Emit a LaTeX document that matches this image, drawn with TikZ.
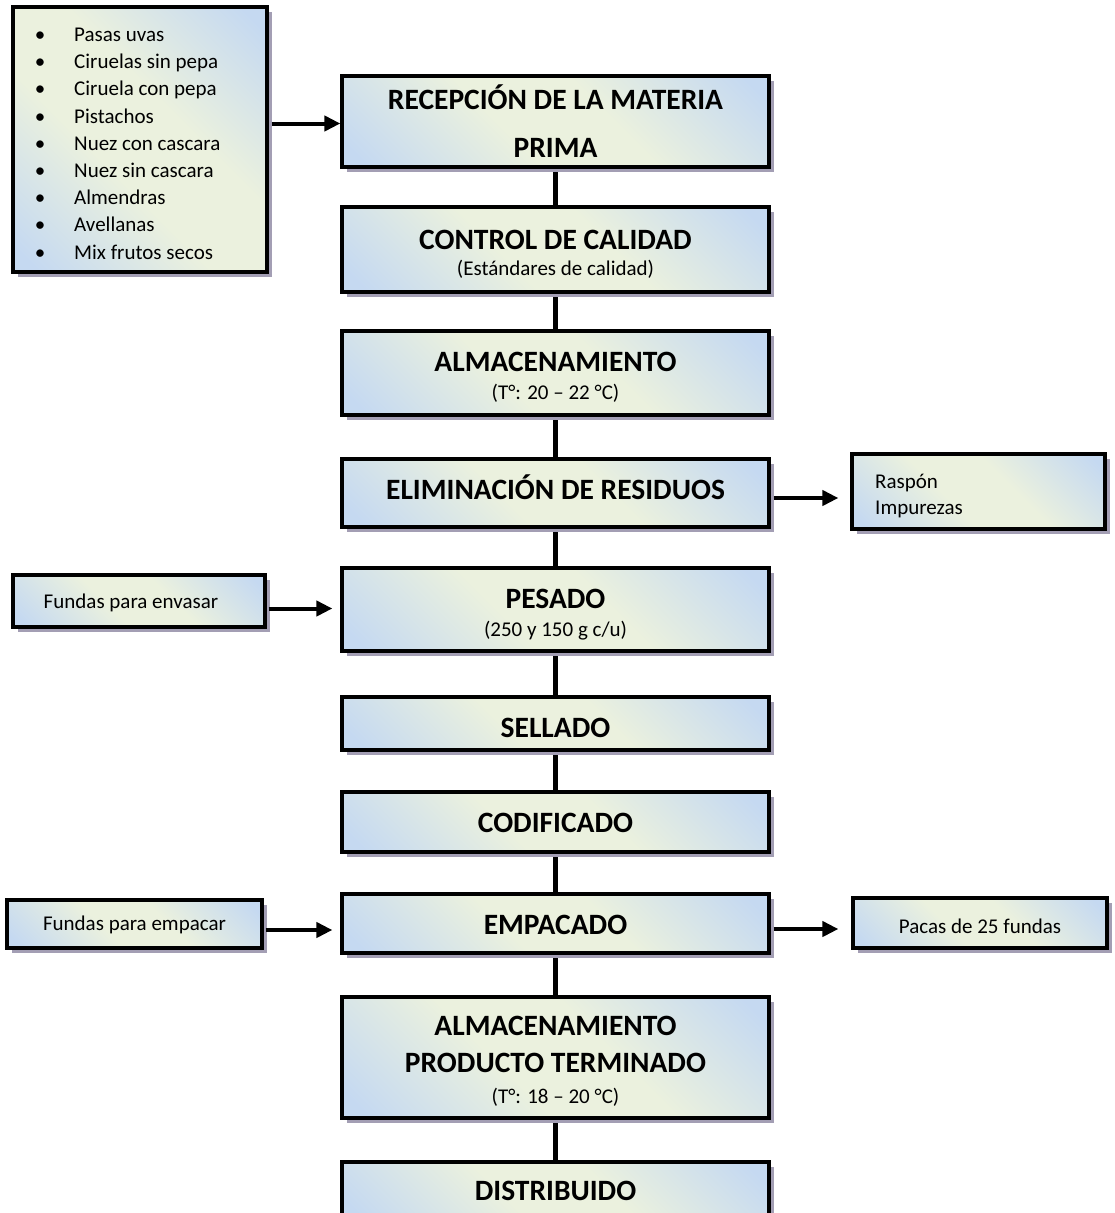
\documentclass[tikz,border=0pt]{standalone}
\usepackage{fontspec}
\setmainfont{Carlito}
\usetikzlibrary{arrows.meta,shadows}

\definecolor{gblue}{RGB}{197,217,241}
\definecolor{gcream}{RGB}{235,241,222}
\definecolor{shadowc}{RGB}{163,158,180}

% diagonal two-tone fill of the process boxes (stretched to each box)
\pgfdeclarehorizontalshading{boxfill}{100bp}{%
  color(0bp)=(gblue); color(18bp)=(gblue); color(42bp)=(gcream);
  color(58bp)=(gcream); color(82bp)=(gblue); color(100bp)=(gblue)}

\pgfdeclarelayer{bg}
\pgfsetlayers{bg,main}

\begin{document}
\begin{tikzpicture}[x=1pt,y=-1pt,
  box/.style={draw=black, line width=3.2pt, shade, shading=boxfill,
    shading angle=45, inner sep=0pt,
    drop shadow={shadow xshift=5pt, shadow yshift=-5pt, fill=shadowc, opacity=1}},
  ttl/.style={inner sep=0pt, anchor=base, font=\fontsize{29.5pt}{31pt}\selectfont\bfseries},
  sub/.style={inner sep=0pt, anchor=base, font=\fontsize{21pt}{25pt}\selectfont},
  link/.style={line width=5pt},
  arr/.style={line width=4pt, -{Triangle[length=16pt,width=15pt]}}]

\useasboundingbox (0,0) rectangle (1114,1213);
\clip (0,0) rectangle (1114,1213);

% main process column
\node[box, minimum width=427pt, minimum height=91pt] (recep) at (555.5,121.5) {};
\node[box, minimum width=427pt, minimum height=85pt] (control) at (555.5,249.5) {};
\node[box, minimum width=427pt, minimum height=84pt] (alm) at (555.5,373) {};
\node[box, minimum width=427pt, minimum height=68pt] (elim) at (555.5,493) {};
\node[box, minimum width=427pt, minimum height=83pt] (pesado) at (555.5,609.5) {};
\node[box, minimum width=427pt, minimum height=53pt] (sellado) at (555.5,723.5) {};
\node[box, minimum width=427pt, minimum height=60pt] (codif) at (555.5,822) {};
\node[box, minimum width=427pt, minimum height=59pt] (empac) at (555.5,923.5) {};
\node[box, minimum width=427pt, minimum height=121pt] (almpt) at (555.5,1057.5) {};
\node[box, minimum width=427pt, minimum height=60pt] (distrib) at (555.5,1192) {};

% side boxes
\node[box, minimum width=254pt, minimum height=265pt] (list) at (140,139.5) {};
\node[box, minimum width=253pt, minimum height=75pt] (rasp) at (978.5,491.5) {};
\node[box, minimum width=252pt, minimum height=52pt] (envasar) at (139,601) {};
\node[box, minimum width=255pt, minimum height=48pt] (empacar) at (134.5,924) {};
\node[box, minimum width=254pt, minimum height=50pt] (pacas) at (980,923) {};

% box texts
\node[ttl] (recepA) at (555.5,109.3) {RECEPCIÓN DE LA MATERIA};
\node[ttl] (recepB) at (555.5,157.3) {PRIMA};
\node[ttl] (controlA) at (555.5,249) {CONTROL DE CALIDAD};
\node[sub] (controlB) at (555.5,275) {(Estándares de calidad)};
\node[ttl] (almA) at (555.5,371) {ALMACENAMIENTO};
\node[sub] (almB) at (555.5,399) {(T°: 20 – 22 °C)};
\node[ttl] (elimA) at (555.5,499) {ELIMINACIÓN DE RESIDUOS};
\node[ttl] (pesadoA) at (555.5,608.5) {PESADO};
\node[sub] (pesadoB) at (555.5,636) {(250 y 150 g c/u)};
\node[ttl] (selladoA) at (555.5,737) {SELLADO};
\node[ttl] (codifA) at (555.5,832) {CODIFICADO};
\node[ttl] (empacA) at (555.5,934) {EMPACADO};
\node[ttl] (almptA) at (555.5,1035.5) {ALMACENAMIENTO};
\node[ttl] (almptB) at (555.5,1072) {PRODUCTO TERMINADO};
\node[sub] (almptC) at (555.5,1103) {(T°: 18 – 20 °C)};
\node[ttl] (distribA) at (555.5,1200) {DISTRIBUIDO};

\node[sub, anchor=base west] (raspA) at (875,488.3) {Raspón};
\node[sub, anchor=base west] (raspB) at (875,514) {Impurezas};
\node[sub] (envasarA) at (131,608) {Fundas para envasar};
\node[sub] (empacarA) at (134.5,930) {Fundas para empacar};
\node[sub] (pacasA) at (980,933) {Pacas de 25 fundas};

% raw material list
\foreach \t [count=\i] in {Pasas uvas, Ciruelas sin pepa, Ciruela con pepa,
    Pistachos, Nuez con cascara, Nuez sin cascara, Almendras, Avellanas,
    Mix frutos secos} {
  \node[sub] (bul\i) at (40,{41.5+27.2*(\i-1)}) {•};
  \node[sub, anchor=base west] (item\i) at (74,{41.5+27.2*(\i-1)}) {\t};
}

% connectors, kept behind the boxes
\begin{pgfonlayer}{bg}
\fill[white] (0,0) rectangle (1114,1213);
\draw[link] (recep) -- (control);
\draw[link] (control) -- (alm);
\draw[link] (alm) -- (elim);
\draw[link] (elim) -- (pesado);
\draw[link] (pesado) -- (sellado);
\draw[link] (sellado) -- (codif);
\draw[link] (codif) -- (empac);
\draw[link] (empac) -- (almpt);
\draw[link] (almpt) -- (distrib);
\end{pgfonlayer}

\draw[arr, shorten <=3pt] ([yshift=-2pt]list.east |- recep.west) -- ([yshift=-2pt]recep.west);
\draw[arr, shorten <=3pt, shorten >=12pt] ([yshift=-5pt]elim.east) -- ([yshift=-5pt]elim.east -| rasp.west);
\draw[arr, shorten <=2pt, shorten >=8pt] ([yshift=1pt]envasar.east |- pesado.west) -- ([yshift=1pt]pesado.west);
\draw[arr, shorten <=2pt, shorten >=8pt] ([yshift=-6pt]empacar.east) -- ([yshift=-6pt]empacar.east -| empac.west);
\draw[arr, shorten <=3pt, shorten >=13pt] ([yshift=-5.5pt]empac.east) -- ([yshift=-5.5pt]empac.east -| pacas.west);

\end{tikzpicture}
\end{document}
